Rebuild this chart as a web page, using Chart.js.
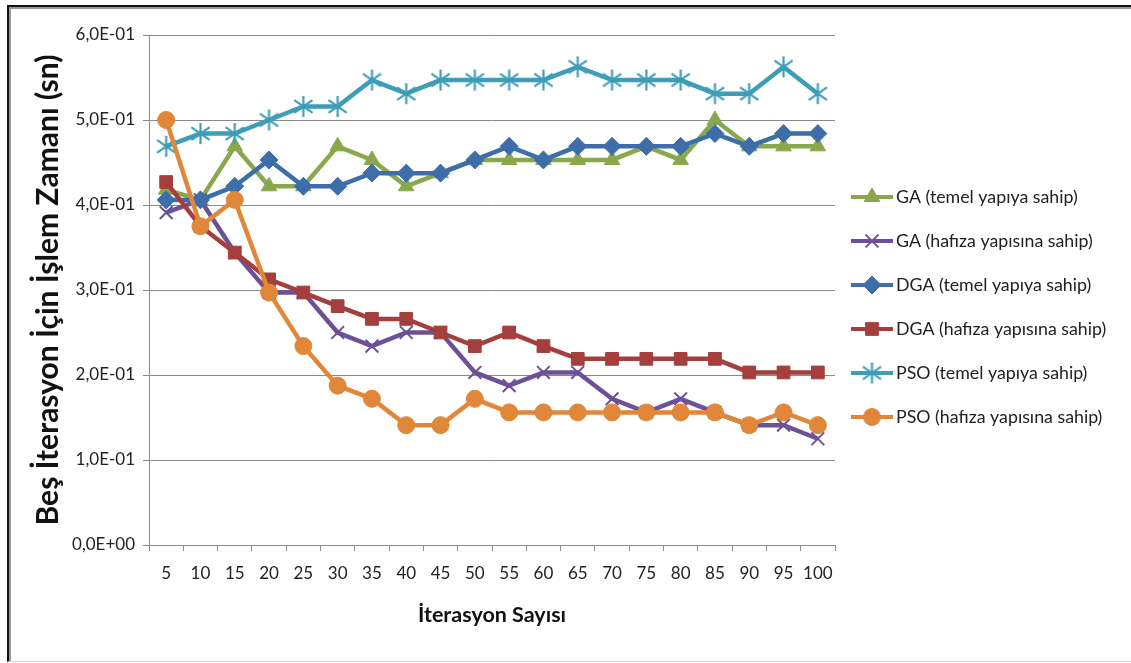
<!DOCTYPE html>
<html>
<head>
<meta charset="utf-8">
<script src="https://cdn.jsdelivr.net/npm/chart.js@4.4.1/dist/chart.umd.min.js"></script>
<style>
  html, body { margin: 0; padding: 0; background: #fff; }
  #wrap { position: relative; width: 1131px; height: 663px; overflow: hidden; }
  #frame {
    position: absolute; left: 7px; top: 5px; right: -4px; bottom: 1px;
    border-top: 2px solid #111; border-left: 2px solid #111;
    border-bottom: 1px solid #d4d4d4;
    box-shadow: inset 2px 2px 0 #9a9a9a;
    pointer-events: none;
  }
</style>
</head>
<body>
<div id="wrap">
  <canvas id="c" width="1131" height="663"></canvas>
  <div id="frame"></div>
</div>
<script>
// Iteration counts on the x axis
const iterations = ['5','10','15','20','25','30','35','40','45','50','55','60','65','70','75','80','85','90','95','100'];

// Processing time (s) for five iterations, per algorithm variant
const gaTemel   = [0.418, 0.406, 0.469, 0.422, 0.422, 0.469, 0.453, 0.422, 0.4375, 0.453, 0.453, 0.453, 0.453, 0.453, 0.469, 0.453, 0.500, 0.469, 0.469, 0.469];
const gaHafiza  = [0.391, 0.406, 0.344, 0.297, 0.297, 0.250, 0.234, 0.250, 0.250, 0.203, 0.1875, 0.203, 0.203, 0.172, 0.156, 0.172, 0.156, 0.141, 0.141, 0.125];
const dgaTemel  = [0.406, 0.406, 0.422, 0.453, 0.422, 0.422, 0.4375, 0.4375, 0.4375, 0.453, 0.469, 0.453, 0.469, 0.469, 0.469, 0.469, 0.484, 0.469, 0.484, 0.484];
const dgaHafiza = [0.427, 0.375, 0.344, 0.3125, 0.297, 0.281, 0.266, 0.266, 0.250, 0.234, 0.250, 0.234, 0.219, 0.219, 0.219, 0.219, 0.219, 0.203, 0.203, 0.203];
const psoTemel  = [0.469, 0.484, 0.484, 0.500, 0.516, 0.516, 0.547, 0.531, 0.547, 0.547, 0.547, 0.547, 0.5625, 0.547, 0.547, 0.547, 0.531, 0.531, 0.5625, 0.531];
const psoHafiza = [0.500, 0.375, 0.406, 0.297, 0.234, 0.1875, 0.172, 0.141, 0.141, 0.172, 0.156, 0.156, 0.156, 0.156, 0.156, 0.156, 0.156, 0.141, 0.156, 0.141];

const seriesNames = [
  'GA (temel yapıya sahip)',
  'GA (hafıza yapısına sahip)',
  'DGA (temel yapıya sahip)',
  'DGA (hafıza yapısına sahip)',
  'PSO (temel yapıya sahip)',
  'PSO (hafıza yapısına sahip)'
];

const yMin = 0, yMax = 0.6, yStep = 0.1;

const FONT = 'Lato, "Open Sans", sans-serif';
const C = {
  green: '#89a84b', purple: '#6c5196', blue: '#3e6ea9',
  red: '#a43f3d', teal: '#3e9db7', orange: '#e0873a'
};

// six-spoke asterisk marker (X plus vertical bar)
function asterisk(color, size) {
  const cv = document.createElement('canvas');
  cv.width = size; cv.height = size;
  const g = cv.getContext('2d');
  const r = size / 2 - 1, c = size / 2;
  g.strokeStyle = color; g.lineWidth = 2.2; g.lineCap = 'butt';
  g.beginPath();
  g.moveTo(c - r * 0.87, c - r * 0.6); g.lineTo(c + r * 0.87, c + r * 0.6);
  g.moveTo(c + r * 0.87, c - r * 0.6); g.lineTo(c - r * 0.87, c + r * 0.6);
  g.moveTo(c, c - r); g.lineTo(c, c + r);
  g.stroke();
  return cv;
}

function ds(label, data, color, style, radius, order, extra) {
  return Object.assign({
    label, data,
    borderColor: color, backgroundColor: color,
    borderWidth: 4.5,
    pointStyle: style, pointRadius: radius, pointHoverRadius: radius,
    pointBackgroundColor: color, pointBorderColor: color, pointBorderWidth: 1,
    tension: 0, order
  }, extra || {});
}

const datasets = [
  ds(seriesNames[0], gaTemel,   C.green,  'triangle', 9, 6),
  ds(seriesNames[1], gaHafiza,  C.purple, 'crossRot', 9, 5, { pointBorderWidth: 2 }),
  ds(seriesNames[2], dgaTemel,  C.blue,   'rectRot',  9, 4),
  ds(seriesNames[3], dgaHafiza, C.red,    'rect',     9, 3),
  ds(seriesNames[4], psoTemel,  C.teal,   asterisk(C.teal, 23), 10, 2),
  ds(seriesNames[5], psoHafiza, C.orange, 'circle',   8.5, 1)
];

function sciComma(v) {
  const [m, e] = Number(v).toExponential(1).split('e');
  const n = parseInt(e, 10);
  return m.replace('.', ',') + 'E' + (n < 0 ? '-' : '+') + String(Math.abs(n)).padStart(2, '0');
}

// legend drawn to the right of the plot: line segment with marker, then label
const sideLegend = {
  id: 'sideLegend',
  afterDraw(chart) {
    const ctx = chart.ctx;
    const x0 = 851, x1 = 893, top = 197, gap = 44;
    chart.data.datasets.forEach((d, i) => {
      const y = top + i * gap;
      ctx.save();
      ctx.strokeStyle = d.borderColor;
      ctx.lineWidth = 4;
      ctx.beginPath(); ctx.moveTo(x0, y); ctx.lineTo(x1, y); ctx.stroke();
      ctx.fillStyle = d.pointBackgroundColor;
      ctx.strokeStyle = d.pointBorderColor;
      ctx.lineWidth = d.pointBorderWidth;
      Chart.helpers.drawPoint(ctx, {
        pointStyle: d.pointStyle, radius: d.pointRadius, rotation: 0, borderWidth: d.pointBorderWidth
      }, (x0 + x1) / 2, y);
      ctx.fillStyle = '#222';
      ctx.font = '17.8px ' + FONT;
      ctx.textBaseline = 'middle';
      ctx.textAlign = 'left';
      ctx.fillText(d.label, x1 + 3, y);
      ctx.restore();
    });
  }
};

new Chart(document.getElementById('c'), {
  type: 'line',
  data: { labels: iterations, datasets },
  options: {
    responsive: false,
    animation: false,
    devicePixelRatio: 1,
    layout: { padding: { left: 0, top: 35, right: 296, bottom: 0 } },
    plugins: { legend: { display: false }, tooltip: { enabled: false } },
    scales: {
      x: {
        type: 'category',
        offset: true,
        grid: { display: true, drawOnChartArea: false, drawTicks: true, tickLength: 6, offset: true, color: '#8a8a8a' },
        border: { display: true, color: '#8a8a8a', width: 1 },
        ticks: { color: '#222', font: { family: FONT, size: 17 }, padding: 12, maxRotation: 0, autoSkip: false },
        title: { display: true, text: 'İterasyon Sayısı', color: '#111', font: { family: FONT, size: 21.5, weight: 'bold' }, padding: { top: 4, bottom: 35 } },
        afterFit(s) { s.height = 118; }
      },
      y: {
        min: yMin, max: yMax,
        grid: { color: '#8a8a8a', tickLength: 6, drawTicks: true },
        border: { display: true, color: '#8a8a8a', width: 1 },
        ticks: { stepSize: yStep, color: '#222', font: { family: FONT, size: 17 }, padding: 8, callback: v => sciComma(v) },
        title: { display: true, text: 'Beş İterasyon İçin İşlem Zamanı (sn)', color: '#111', font: { family: FONT, size: 30, weight: 'bold' }, padding: { top: 30, bottom: 4 } },
        afterFit(s) { s.width = 149; }
      }
    }
  },
  plugins: [sideLegend]
});
</script>
</body>
</html>
